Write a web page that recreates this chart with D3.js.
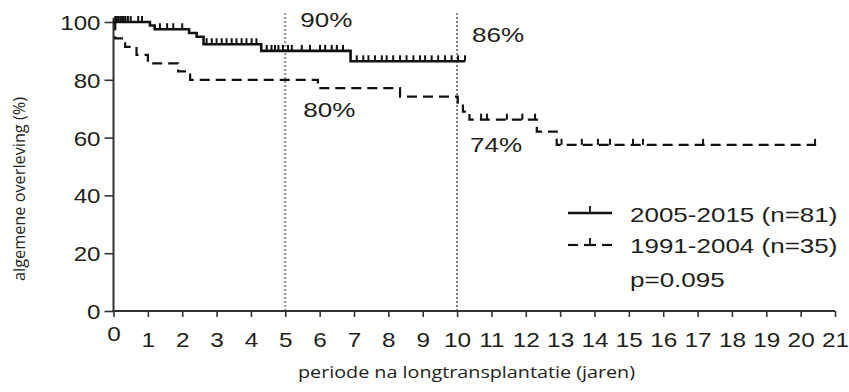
<!DOCTYPE html>
<html>
<head>
<meta charset="utf-8">
<script src="https://cdn.jsdelivr.net/npm/d3@7"></script>
<style>
  body { margin: 0; background: #fff; }
  svg { display: block; }
  text { font-family: "Liberation Sans", Arial, sans-serif; fill: #231f20; }
  .title { font-family: "Open Sans", "Noto Sans", sans-serif; }
</style>
</head>
<body>
<svg id="chart" width="849" height="392"></svg>
<script>
// Overall survival after lung transplantation (Kaplan-Meier), two eras.

const yearTicks = d3.range(0, 22);
const survivalTicks = [0, 20, 40, 60, 80, 100];
const milestoneYears = [5, 10];

// 2005-2015 cohort: step times (years) and survival (%) from each step on
const recentTimes = [0, 1.06, 1.2, 2.2, 2.42, 2.62, 4.3, 6.9];
const recentSurv  = [100, 98.8, 97.5, 96.2, 94.9, 92.3, 90.0, 86.4];
const recentEnd = 10.23;
const recentCensored = [
  0.05, 0.1, 0.15, 0.2, 0.25, 0.3, 0.35, 0.42, 0.5, 0.72, 0.83,
  1.35, 1.56, 1.74, 2.0,
  2.71, 2.86, 3.0, 3.15, 3.29, 3.44, 3.58, 3.73, 3.87, 4.02, 4.16,
  4.46, 4.6, 4.7, 4.8, 4.93, 5.08, 5.19, 5.48, 5.72, 6.01, 6.16, 6.35, 6.5, 6.68,
  7.08, 7.27, 7.42, 7.61, 7.81, 7.95, 8.14, 8.34, 8.53, 8.73, 8.92, 9.07,
  9.26, 9.45, 9.65, 9.84, 10.03, 10.23
];

// 1991-2004 cohort
const earlyTimes = [0, 0.05, 0.34, 0.67, 1.0, 1.88, 2.23, 5.95, 8.34, 10.02, 10.17, 10.36, 12.32, 12.9];
const earlySurv  = [100, 94.3, 91.4, 88.6, 85.7, 82.9, 80.0, 77.1, 74.2, 71.6, 69.0, 66.2, 62.1, 57.5];
const earlyEnd = 20.45;
const earlyCensored = [10.7, 10.87, 11.45, 11.9, 12.27, 13.04, 13.63, 14.1, 14.45, 15.12, 15.41, 17.16, 20.42];

const legendLabels = ["2005-2015 (n=81)", "1991-2004 (n=35)"];
const pValueLabel = "p=0.095";
const xTitle = "periode na longtransplantatie (jaren)";
const yTitle = "algemene overleving (%)";

const svg = d3.select("#chart");
const x = d3.scaleLinear().domain([0, 21]).range([113.5, 835]);
const y = d3.scaleLinear().domain([0, 100]).range([311, 22]);

function survivalAt(times, surv, t) {
  let v = surv[0];
  times.forEach((tt, i) => { if (tt <= t + 1e-9) v = surv[i]; });
  return v;
}
function stepPoints(times, surv, end) {
  const pts = times.map((t, i) => [t, surv[i]]);
  pts.push([end, surv[surv.length - 1]]);
  return pts;
}

// milestone reference lines at 5 and 10 years
svg.selectAll("line.ref").data(milestoneYears).join("line")
  .attr("class", "ref")
  .attr("x1", d => x(d)).attr("x2", d => x(d))
  .attr("y1", y(0)).attr("y2", y(103))
  .attr("stroke", (d, i) => i === 0 ? "#8c8c8c" : "#4a4a4a")
  .attr("stroke-width", (d, i) => i === 0 ? 2 : 1.4)
  .attr("stroke-dasharray", "2,2");

// axes
const xAxis = d3.axisBottom(x).tickValues(yearTicks).tickSize(6).tickSizeOuter(0).tickPadding(15);
const gx = svg.append("g").attr("transform", `translate(0,${y(0)})`).call(xAxis);
gx.select(".domain").remove();
gx.selectAll(".tick line").attr("stroke", "#333").attr("stroke-width", 1.6);
gx.selectAll(".tick text")
  .attr("font-size", 21).attr("dy", "0.71em")
  .attr("transform", "scale(1.16,1)")
  .attr("y", (d, i) => i === 0 ? 15 : 21);

const yAxis = d3.axisLeft(y).tickValues(survivalTicks).tickSize(9).tickSizeOuter(0).tickPadding(3);
const gy = svg.append("g").attr("transform", `translate(${x(0)},0)`).call(yAxis);
gy.select(".domain").remove();
gy.selectAll(".tick line").attr("stroke", "#333").attr("stroke-width", 1.6);
gy.selectAll(".tick text")
  .attr("font-size", 21)
  .attr("transform", "scale(1.15,1)")
  .attr("x", -13 / 1.15)
  .attr("dy", "0.36em");

svg.append("line")
  .attr("x1", x(0)).attr("x2", x(0)).attr("y1", y(101.5)).attr("y2", y(0) + 1)
  .attr("stroke", "#333").attr("stroke-width", 2);
svg.append("line")
  .attr("x1", x(0) - 1).attr("x2", x(21)).attr("y1", y(0)).attr("y2", y(0))
  .attr("stroke", "#333").attr("stroke-width", 2);

// survival curves
const line = d3.line().x(d => x(d[0])).y(d => y(d[1])).curve(d3.curveStepAfter);

svg.append("path")
  .datum(stepPoints(earlyTimes, earlySurv, earlyEnd))
  .attr("d", line).attr("fill", "none")
  .attr("stroke", "#111").attr("stroke-width", 2.2)
  .attr("stroke-dasharray", "10,6");

svg.append("path")
  .datum(stepPoints(recentTimes, recentSurv, recentEnd))
  .attr("d", line).attr("fill", "none")
  .attr("stroke", "#111").attr("stroke-width", 2.6);

// censoring marks
function drawCensored(times, surv, marks, cls) {
  svg.selectAll("line." + cls).data(marks).join("line")
    .attr("class", cls)
    .attr("x1", d => x(d)).attr("x2", d => x(d))
    .attr("y1", d => y(survivalAt(times, surv, d)))
    .attr("y2", d => y(survivalAt(times, surv, d)) - 6)
    .attr("stroke", "#111").attr("stroke-width", 2);
}
drawCensored(recentTimes, recentSurv, recentCensored, "cr");
drawCensored(earlyTimes, earlySurv, earlyCensored, "ce");

// milestone survival labels
function pct(v) { return Math.round(v) + "%"; }
const labelSpecs = [
  { text: pct(survivalAt(recentTimes, recentSurv, 5)), px: x(5) + 15, py: 27 },
  { text: pct(survivalAt(recentTimes, recentSurv, 10)), px: x(10) + 15, py: 42 },
  { text: pct(survivalAt(earlyTimes, earlySurv, 5)), px: x(5) + 18, py: 117 },
  { text: pct(survivalAt(earlyTimes, earlySurv, 10)), px: x(10) + 13, py: 152 }
];
svg.selectAll("text.milestone").data(labelSpecs).join("text")
  .attr("class", "milestone")
  .attr("font-size", 20.5)
  .attr("transform", d => `translate(${d.px},${d.py}) scale(1.27,1)`)
  .text(d => d.text);

// legend
const legendRows = [222, 253];
const lg = svg.append("g");
lg.append("line").attr("x1", 568).attr("x2", 612).attr("y1", 213).attr("y2", 213)
  .attr("stroke", "#111").attr("stroke-width", 2.4);
lg.append("line").attr("x1", 590).attr("x2", 590).attr("y1", 213).attr("y2", 206)
  .attr("stroke", "#111").attr("stroke-width", 1.8);
[[568, 578], [584, 596], [602, 612]].forEach(s => {
  lg.append("line").attr("x1", s[0]).attr("x2", s[1]).attr("y1", 245).attr("y2", 245)
    .attr("stroke", "#111").attr("stroke-width", 2.2);
});
lg.append("line").attr("x1", 590).attr("x2", 590).attr("y1", 245).attr("y2", 238)
  .attr("stroke", "#111").attr("stroke-width", 1.8);
legendLabels.forEach((t, i) => {
  lg.append("text").attr("font-size", 20)
    .attr("transform", `translate(630,${legendRows[i]}) scale(1.3,1)`)
    .text(t);
});
lg.append("text").attr("font-size", 20)
  .attr("transform", "translate(630,287) scale(1.3,1)")
  .text(pValueLabel);

// axis titles
svg.append("text").attr("class", "title")
  .attr("x", 298).attr("y", 378)
  .attr("font-size", 16)
  .attr("textLength", 337).attr("lengthAdjust", "spacingAndGlyphs")
  .text(xTitle);
svg.append("text").attr("class", "title")
  .attr("transform", "translate(25,281) rotate(-90)")
  .attr("font-size", 16.5)
  .attr("textLength", 184).attr("lengthAdjust", "spacingAndGlyphs")
  .text(yTitle);
</script>
</body>
</html>
